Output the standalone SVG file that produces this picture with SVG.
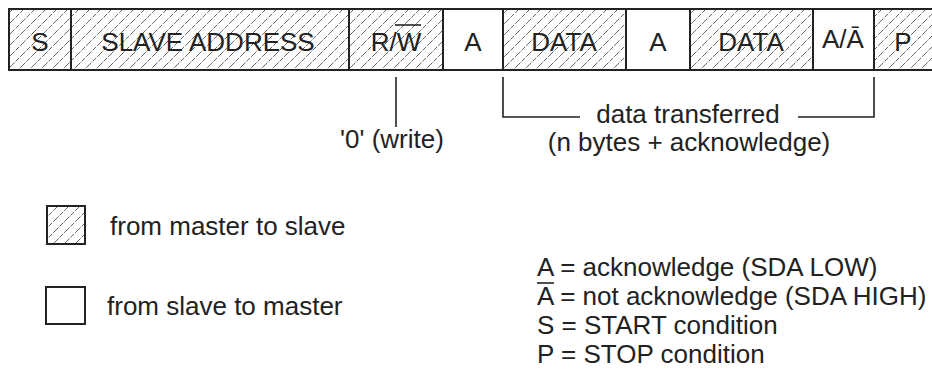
<svg xmlns="http://www.w3.org/2000/svg" width="932" height="380" viewBox="0 0 932 380">
<defs>
<pattern id="hatch" patternUnits="userSpaceOnUse" width="11" height="11">
<path d="M0,11 L11,0 M-3,3 L3,-3 M8,14 L14,8" stroke="#555" stroke-width="0.9" stroke-dasharray="5 1.5" fill="none"/>
</pattern>
</defs>
<style>
.t{font-family:"Liberation Sans",Arial,sans-serif;font-size:26px;fill:#222}
.c{text-anchor:middle}
.h{fill:url(#hatch);stroke:none}
.w{fill:#fff;stroke:none}
.b{stroke:#222;stroke-width:2;fill:none}
.ln{stroke:#222;stroke-width:1.6;fill:none}
</style>
<rect width="932" height="380" fill="#fff"/>
<g id="frame">
<rect class="h" x="9" y="9" width="923" height="61"/>
<rect class="w" x="443" y="9" width="60" height="61"/>
<rect class="w" x="626" y="9" width="64" height="61"/>
<rect class="w" x="813" y="9" width="61" height="61"/>
<path class="b" d="M932,9 H9 V70 H932"/>
</g>
<g id="field-s"><line class="b" x1="71" y1="9" x2="71" y2="70"/><text class="t c" x="40" y="51">S</text></g>
<g id="field-address"><line class="b" x1="349" y1="9" x2="349" y2="70"/><text class="t c" x="208" y="51">SLAVE ADDRESS</text></g>
<g id="field-rw"><line class="b" x1="443" y1="9" x2="443" y2="70"/><text class="t c" x="396" y="51">R/W</text><line class="ln" x1="395" y1="25" x2="421" y2="25"/></g>
<g id="field-a1"><line class="b" x1="503" y1="9" x2="503" y2="70"/><text class="t c" x="473" y="51">A</text></g>
<g id="field-data1"><line class="b" x1="626" y1="9" x2="626" y2="70"/><text class="t c" x="564" y="51">DATA</text></g>
<g id="field-a2"><line class="b" x1="690" y1="9" x2="690" y2="70"/><text class="t c" x="658" y="51">A</text></g>
<g id="field-data2"><line class="b" x1="813" y1="9" x2="813" y2="70"/><text class="t c" x="751" y="51">DATA</text></g>
<g id="field-ack"><line class="b" x1="874" y1="9" x2="874" y2="70"/><text class="t c" x="843" y="48">A/Ā</text></g>
<g id="field-p"><text class="t c" x="903" y="51">P</text></g>
<g id="connectors">
<line class="ln" x1="396" y1="77" x2="396" y2="127"/>
<path class="ln" d="M503,77 V117 H580"/>
<path class="ln" d="M798,117 H874 V77"/>
</g>
<g id="label-write"><text class="t c" x="392" y="148">'0' (write)</text></g>
<g id="label-data"><text class="t c" x="688" y="123">data transferred</text><text class="t c" x="689" y="151">(n bytes + acknowledge)</text></g>
<g id="legend-master">
<rect class="h" x="47" y="206" width="38" height="38"/>
<rect class="b" x="47" y="206" width="38" height="38"/>
<text class="t" x="110" y="235">from master to slave</text>
</g>
<g id="legend-slave">
<rect class="b" x="46" y="287" width="39" height="37"/>
<text class="t" x="107" y="315">from slave to master</text>
</g>
<g id="legend-keys">
<text class="t" x="537" y="276">A = acknowledge (SDA LOW)</text>
<line class="ln" x1="537" y1="283" x2="554" y2="283"/>
<text class="t" x="537" y="305">A = not acknowledge (SDA HIGH)</text>
<text class="t" x="537" y="334">S = START condition</text>
<text class="t" x="537" y="363">P = STOP condition</text>
</g>
</svg>
